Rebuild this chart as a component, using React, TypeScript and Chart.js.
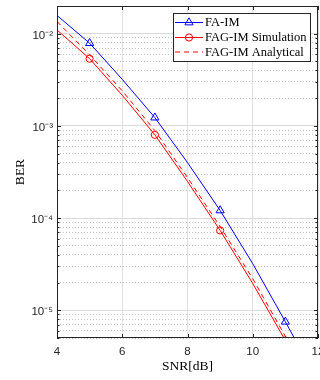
import React, { useEffect, useRef } from "react";
import { Chart, registerables } from "chart.js";

Chart.register(...registerables);

// ---- data ----
const snr = [4, 5, 6, 7, 8, 9, 10, 11, 12];
const faIm = [1.58e-2, 7.9e-3, 3.2e-3, 1.23e-3, 4.0e-4, 1.21e-4, 3.2e-5, 7.5e-6, 1.7e-6];
const fagSim = [1.1e-2, 5.36e-3, 2.15e-3, 8.0e-4, 2.5e-4, 7.35e-5, 1.95e-5, 4.7e-6, 1.0e-6];
const fagAna = [1.36e-2, 5.9e-3, 2.4e-3, 8.9e-4, 2.75e-4, 8.1e-5, 2.2e-5, 5.2e-6, 1.1e-6];
const markerSnr = [5, 7, 9, 11];
const seriesLabels = ["FA-IM", "FAG-IM Simulation", "FAG-IM Analytical"];
const xTickValues = [4, 6, 8, 10, 12];
const yMin = 5e-6;
const yMax = 2e-2;
const xTitle = "SNR[dB]";
const yTitle = "BER";

const SUP: Record<string, string> = {
  "-": "\u207B", "0": "\u2070", "1": "\u00B9", "2": "\u00B2", "3": "\u00B3",
  "4": "\u2074", "5": "\u2075", "6": "\u2076", "7": "\u2077", "8": "\u2078", "9": "\u2079",
};
const sup = (s: string) => s.split("").map((c) => SUP[c] || c).join("");

const AXIS_COLOR = "#262626";
const TICK_FONT = { family: "'Liberation Sans', Arial, sans-serif", size: 11.5 };
const TITLE_FONT = { family: "'Liberation Serif', 'Times New Roman', serif", size: 13.5 };
const LEGEND_FONT = "12.5px 'Liberation Serif', 'Times New Roman', serif";

function drawMarker(ctx: CanvasRenderingContext2D, style: string, x: number, y: number, r: number) {
  ctx.beginPath();
  if (style === "triangle") {
    const h = r * 1.5;
    const w = r * Math.sqrt(3);
    ctx.moveTo(x, y - r);
    ctx.lineTo(x + w / 2, y - r + h);
    ctx.lineTo(x - w / 2, y - r + h);
    ctx.closePath();
  } else if (style === "circle") {
    ctx.arc(x, y, r, 0, Math.PI * 2);
  }
  ctx.stroke();
}

const framePlugin = {
  id: "matlabFrame",
  afterDatasetsDraw(chart: any) {
    const { ctx, chartArea } = chart;
    const { left, right, top, bottom } = chartArea;
    const xs = chart.scales.x;
    const ys = chart.scales.y;
    ctx.save();
    ctx.strokeStyle = AXIS_COLOR;
    ctx.lineWidth = 1;
    ctx.setLineDash([]);
    ctx.beginPath();
    for (const t of ys.ticks) {
      const py = Math.round(ys.getPixelForValue(t.value)) + 0.5;
      const len = t.major ? 4 : 2.5;
      ctx.moveTo(left, py);
      ctx.lineTo(left + len, py);
      ctx.moveTo(right, py);
      ctx.lineTo(right - len, py);
    }
    for (const t of xs.ticks) {
      const px = Math.round(xs.getPixelForValue(t.value)) + 0.5;
      ctx.moveTo(px, bottom);
      ctx.lineTo(px, bottom - 4);
      ctx.moveTo(px, top);
      ctx.lineTo(px, top + 4);
    }
    ctx.stroke();
    ctx.strokeRect(Math.round(left) + 0.5, Math.round(top) + 0.5, Math.round(right - left) - 1, Math.round(bottom - top) - 1);
    ctx.restore();
  },
  afterDraw(chart: any) {
    const { ctx, chartArea } = chart;
    const ds = chart.data.datasets;
    ctx.save();
    ctx.font = LEGEND_FONT;
    let maxW = 0;
    for (const d of ds) maxW = Math.max(maxW, ctx.measureText(d.label).width);
    const lineLen = 28;
    const padL = 2;
    const gap = 2;
    const padR = 4;
    const boxW = Math.round(padL + lineLen + gap + maxW + padR);
    const boxH = 49;
    const boxRight = Math.round(chartArea.right) - 7;
    const boxLeft = boxRight - boxW;
    const boxTop = Math.round(chartArea.top) + 7;
    ctx.fillStyle = "#ffffff";
    ctx.fillRect(boxLeft, boxTop, boxW, boxH);
    ctx.strokeStyle = AXIS_COLOR;
    ctx.lineWidth = 1;
    ctx.strokeRect(boxLeft + 0.5, boxTop + 0.5, boxW - 1, boxH - 1);
    const rows = [9, 24, 38.5];
    ds.forEach((d: any, i: number) => {
      const y = boxTop + rows[i];
      const x0 = boxLeft + padL;
      ctx.strokeStyle = d.borderColor;
      ctx.lineWidth = 1;
      ctx.setLineDash(d.borderDash || []);
      ctx.beginPath();
      ctx.moveTo(x0, y + 0.5);
      ctx.lineTo(x0 + lineLen, y + 0.5);
      ctx.stroke();
      ctx.setLineDash([]);
      if (d.legendMarker) drawMarker(ctx, d.pointStyle, x0 + lineLen / 2, y + 0.5, d.legendMarker);
      ctx.fillStyle = "#000000";
      ctx.textBaseline = "middle";
      ctx.textAlign = "left";
      ctx.fillText(d.label, x0 + lineLen + gap, y + 1);
    });
    ctx.restore();
  },
};

function makePoints(vals: number[]) {
  return snr.map((x, i) => ({ x, y: vals[i] }));
}

const markerRadius = (r: number) => (c: any) => (markerSnr.includes(snr[c.dataIndex]) ? r : 0);

export default function App() {
  const ref = useRef<HTMLCanvasElement | null>(null);
  useEffect(() => {
    if (!ref.current) return;
    const chart = new Chart(ref.current, {
      type: "line",
      data: {
        datasets: [
          {
            label: seriesLabels[0],
            data: makePoints(faIm),
            borderColor: "#0000ff",
            backgroundColor: "transparent",
            borderWidth: 1,
            pointStyle: "triangle",
            pointRadius: markerRadius(4.7),
            pointBorderColor: "#0000ff",
            pointBackgroundColor: "transparent",
            pointBorderWidth: 1,
            tension: 0,
            legendMarker: 4.7,
          } as any,
          {
            label: seriesLabels[1],
            data: makePoints(fagSim),
            borderColor: "#ff0000",
            backgroundColor: "transparent",
            borderWidth: 1,
            pointStyle: "circle",
            pointRadius: markerRadius(3.6),
            pointBorderColor: "#ff0000",
            pointBackgroundColor: "transparent",
            pointBorderWidth: 1,
            tension: 0,
            legendMarker: 3.6,
          } as any,
          {
            label: seriesLabels[2],
            data: makePoints(fagAna),
            borderColor: "#ff0000",
            backgroundColor: "transparent",
            borderWidth: 1,
            borderDash: [5, 4],
            pointRadius: 0,
            tension: 0,
            legendMarker: 0,
          } as any,
        ],
      },
      options: {
        responsive: false,
        animation: false,
        events: [],
        layout: { padding: { top: 6, right: 2, left: 0, bottom: 0 } },
        plugins: { legend: { display: false }, tooltip: { enabled: false } },
        scales: {
          x: {
            type: "linear",
            min: 4,
            max: 12,
            afterBuildTicks: (s: any) => {
              s.ticks = xTickValues.map((v) => ({ value: v }));
            },
            afterFit: (s: any) => {
              s.height = 42;
              s.paddingLeft = 0;
              s.paddingRight = 0;
            },
            ticks: {
              autoSkip: false,
              maxRotation: 0,
              padding: 7,
              color: AXIS_COLOR,
              font: TICK_FONT,
              callback: (v: any) => String(v),
            },
            grid: { color: "#e1e1e1", lineWidth: 1, drawTicks: false },
            border: { display: false },
            title: { display: true, text: xTitle, color: "#000", font: TITLE_FONT, padding: { top: 0, bottom: 5 } },
          },
          y: {
            type: "logarithmic",
            min: yMin,
            max: yMax,
            afterBuildTicks: (s: any) => {
              const t: any[] = [];
              for (let e = -7; e <= -1; e++) {
                for (let m = 1; m <= 9; m++) {
                  const v = m * Math.pow(10, e);
                  if (v >= yMin * 0.999 && v <= yMax * 1.001) t.push({ value: v, major: m === 1 });
                }
              }
              s.ticks = t;
            },
            afterFit: (s: any) => {
              s.width = 57;
              s.paddingTop = 0;
              s.paddingBottom = 0;
            },
            ticks: {
              autoSkip: false,
              padding: 4,
              labelOffset: 2,
              color: AXIS_COLOR,
              font: TICK_FONT,
              callback: function (this: any, v: any, i: number, ticks: any[]) {
                if (!ticks[i] || !ticks[i].major) return "";
                const e = Math.round(Math.log10(Number(v)));
                return "10" + sup(String(e));
              },
            },
            grid: {
              color: (c: any) => (c.tick && c.tick.major ? "#dcdcdc" : "#c4c4c4"),
              lineWidth: 1,
              drawTicks: false,
            },
            border: {
              display: false,
              dash: (c: any) => (c.tick && !c.tick.major ? [1, 2] : []),
            } as any,
            title: { display: true, text: yTitle, color: "#000", font: TITLE_FONT, padding: { top: 12, bottom: 0 } },
          },
        },
      },
      plugins: [framePlugin],
    } as any);
    return () => chart.destroy();
  }, []);
  return (
    <div style={{ position: "absolute", left: 0, top: 0, width: 320, height: 380, background: "#fff" }}>
      <canvas ref={ref} width={320} height={380} style={{ display: "block" }} />
    </div>
  );
}
